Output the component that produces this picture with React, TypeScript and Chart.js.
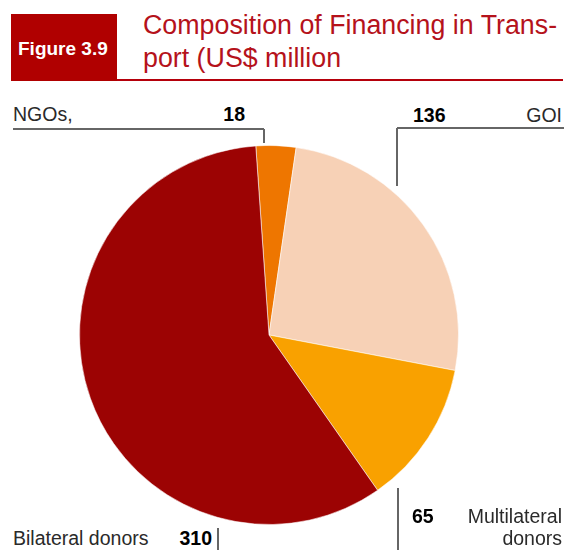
import React, { useEffect, useRef } from "react";
import { Chart, registerables } from "chart.js";

Chart.register(...registerables);

const categories = ["NGOs", "GOI", "Multilateral donors", "Bilateral donors"];
const values = [18, 136, 65, 310];
const sliceColors = ["#ee7600", "#f7d1b6", "#f9a100", "#9c0303"];
const figureLabel = "Figure 3.9";
const titleLines = ["Composition of Financing in Trans-", "port (US$ million"];

const FONT = '"Liberation Sans", Arial, Helvetica, sans-serif';

function Txt(props: {
  text: string;
  x: number;
  baseline: number;
  size: number;
  bold?: boolean;
  color?: string;
  align?: "left" | "right";
}) {
  const { text, x, baseline, size, bold, color, align } = props;
  const top = baseline - 0.8465 * size;
  const style: React.CSSProperties = {
    position: "absolute",
    top,
    fontSize: size,
    lineHeight: `${size}px`,
    fontWeight: bold ? 700 : 400,
    color: color || "#2a2a2a",
    whiteSpace: "nowrap",
    fontFamily: FONT,
  };
  if (align === "right") style.right = 564 - x;
  else style.left = x;
  return <div style={style}>{text}</div>;
}

function Line(props: { x1: number; y1: number; x2: number; y2: number; color?: string; w?: number }) {
  const { x1, y1, x2, y2, color, w } = props;
  const t = w ?? 1.3;
  const horizontal = y1 === y2;
  const style: React.CSSProperties = horizontal
    ? { position: "absolute", left: Math.min(x1, x2), top: y1 - t / 2, width: Math.abs(x2 - x1), height: t, background: color || "#666" }
    : { position: "absolute", left: x1 - t / 2, top: Math.min(y1, y2), width: t, height: Math.abs(y2 - y1), background: color || "#666" };
  return <div style={style} />;
}

export default function App() {
  const canvasRef = useRef<HTMLCanvasElement | null>(null);

  useEffect(() => {
    if (!canvasRef.current) return;
    const chart = new Chart(canvasRef.current, {
      type: "pie",
      data: {
        labels: categories,
        datasets: [
          {
            data: values,
            backgroundColor: sliceColors,
            borderColor: "rgba(255,255,255,0.55)",
            borderWidth: 1,
          },
        ],
      },
      options: {
        responsive: false,
        animation: false,
        rotation: -4,
        layout: { padding: 0 },
        plugins: {
          legend: { display: false },
          tooltip: { enabled: false },
          title: { display: false },
        },
      },
    });
    return () => chart.destroy();
  }, []);

  return (
    <div
      style={{
        position: "absolute",
        left: 0,
        top: 0,
        width: 564,
        height: 550,
        overflow: "hidden",
        background: "#fff",
        fontFamily: FONT,
      }}
    >
      {/* Header */}
      <div style={{ position: "absolute", left: 11, top: 14, width: 106, height: 67, background: "#b00000" }} />
      <div style={{ position: "absolute", left: 117, top: 79, width: 446, height: 2, background: "#b5000b" }} />
      <Txt text={figureLabel} x={18} baseline={55} size={19} bold color="#ffffff" />
      <Txt text={titleLines[0]} x={143} baseline={35} size={26.8} color="#b5121b" />
      <Txt text={titleLines[1]} x={143} baseline={68} size={26.8} color="#b5121b" />

      {/* Pie */}
      <canvas
        ref={canvasRef}
        width={380}
        height={380}
        style={{ position: "absolute", left: 79, top: 145, width: 380, height: 380 }}
      />

      {/* NGOs label */}
      <Txt text={categories[0] + ","} x={13} baseline={122} size={19.5} />
      <Txt text={String(values[0])} x={245} baseline={122} size={19.5} bold color="#000" align="right" />
      <Line x1={13} y1={129} x2={264} y2={129} />
      <Line x1={264} y1={129} x2={264} y2={143} />

      {/* GOI label */}
      <Txt text={String(values[1])} x={413} baseline={123} size={19.5} bold color="#000" />
      <Txt text={categories[1]} x={562} baseline={123} size={19.5} align="right" />
      <Line x1={397} y1={128} x2={564} y2={128} />
      <Line x1={397} y1={128} x2={397} y2={186} />

      {/* Multilateral label */}
      <Txt text={String(values[2])} x={412} baseline={524} size={19.5} bold color="#000" />
      <Txt text="Multilateral" x={562} baseline={524} size={19.5} align="right" />
      <Txt text="donors" x={562} baseline={546} size={19.5} align="right" />
      <Line x1={398} y1={488} x2={398} y2={550} />

      {/* Bilateral label */}
      <Txt text={categories[3]} x={13} baseline={546} size={19.5} />
      <Txt text={String(values[3])} x={212} baseline={546} size={19.5} bold color="#000" align="right" />
      <Line x1={218} y1={528} x2={218} y2={550} />
    </div>
  );
}
